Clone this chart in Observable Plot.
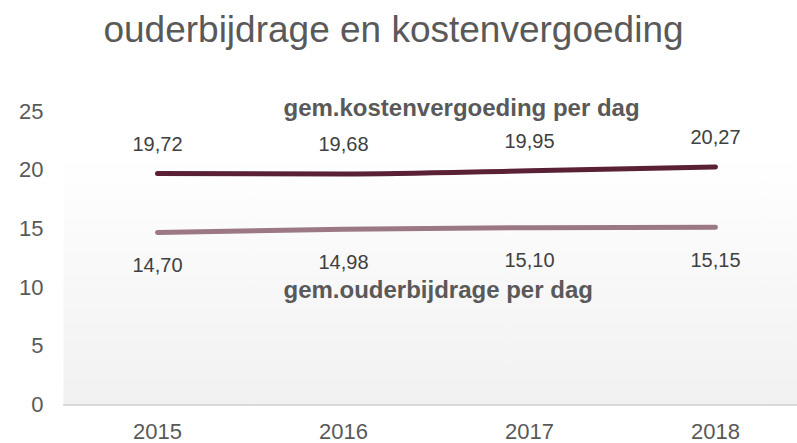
<!DOCTYPE html>
<html>
<head>
<meta charset="utf-8">
<script src="https://cdn.jsdelivr.net/npm/d3@7"></script>
<script src="https://cdn.jsdelivr.net/npm/@observablehq/plot@0.6"></script>
<style>
  html, body { margin: 0; padding: 0; background: #fff; }
  body { width: 797px; height: 443px; overflow: hidden; font-family: "Liberation Sans", Arial, sans-serif; }
  #title { height: 50px; padding-top: 11px; padding-right: 10px; line-height: 37px; box-sizing: border-box; text-align: center; font-size: 37px; color: #595959; white-space: nowrap; }
  svg { display: block; }
</style>
</head>
<body>
<div id="title">ouderbijdrage en kostenvergoeding</div>
<div id="chart"></div>
<script>
const years = ["2015", "2016", "2017", "2018"];
const kostenvergoeding = [19.72, 19.68, 19.95, 20.27];
const ouderbijdrage = [14.70, 14.98, 15.10, 15.15];
const seriesNames = ["gem.kostenvergoeding per dag", "gem.ouderbijdrage per dag"];
const yTicks = [0, 5, 10, 15, 20, 25];

const kData = years.map((y, i) => ({year: y, value: kostenvergoeding[i]}));
const oData = years.map((y, i) => ({year: y, value: ouderbijdrage[i]}));
const fmt = v => v.toFixed(2).replace(".", ",");

const darkColor = "#5a2036";
const lightColor = "#9c7884";
const insL = -94, insR = -82;

const plot = Plot.plot({
  width: 797,
  height: 393,
  marginLeft: 157,
  marginRight: 82,
  marginTop: 61,
  marginBottom: 38.5,
  style: {fontFamily: "Liberation Sans, Arial, sans-serif", background: "transparent", overflow: "visible"},
  x: {type: "point", domain: years, padding: 0},
  y: {domain: [0, 25]},
  marks: [
    Plot.frame({fill: "url(#bgGrad)", stroke: null, insetLeft: insL, insetRight: insR}),
    Plot.ruleY([0], {stroke: "#d9d9d9", strokeWidth: 2, insetLeft: insL, insetRight: insR}),
    Plot.axisY({ticks: yTicks, tickSize: 0, tickPadding: 114, fontSize: 22, fill: "#595959", label: null}),
    Plot.axisX({tickSize: 0, tickPadding: 18, fontSize: 22, fill: "#595959", label: null}),
    Plot.line(kData, {x: "year", y: "value", stroke: darkColor, strokeWidth: 5, curve: "monotone-x", strokeLinecap: "round"}),
    Plot.line(oData, {x: "year", y: "value", stroke: lightColor, strokeWidth: 5, curve: "monotone-x", strokeLinecap: "round"}),
    Plot.text(kData, {x: "year", y: "value", text: d => fmt(d.value), dy: -29, fontSize: 20, fill: "#404040"}),
    Plot.text(oData, {x: "year", y: "value", text: d => fmt(d.value), dy: 33, fontSize: 20, fill: "#404040"}),
    Plot.text([seriesNames[0]], {frameAnchor: "top-left", text: d => d, dx: 126, dy: -3, textAnchor: "start", lineAnchor: "middle", fontSize: 24, fontWeight: "bold", fill: "#595959"}),
    Plot.text([seriesNames[1]], {frameAnchor: "top-left", text: d => d, dx: 126, dy: 179, textAnchor: "start", lineAnchor: "middle", fontSize: 24, fontWeight: "bold", fill: "#595959"})
  ]
});

const defs = d3.select(plot).insert("defs", ":first-child");
const grad = defs.append("linearGradient").attr("id", "bgGrad").attr("x1", 0).attr("y1", 0).attr("x2", 0).attr("y2", 1);
grad.append("stop").attr("offset", "0%").attr("stop-color", "#ffffff");
grad.append("stop").attr("offset", "15%").attr("stop-color", "#ffffff");
grad.append("stop").attr("offset", "100%").attr("stop-color", "#f1f1f1");

document.getElementById("chart").appendChild(plot);
</script>
</body>
</html>
